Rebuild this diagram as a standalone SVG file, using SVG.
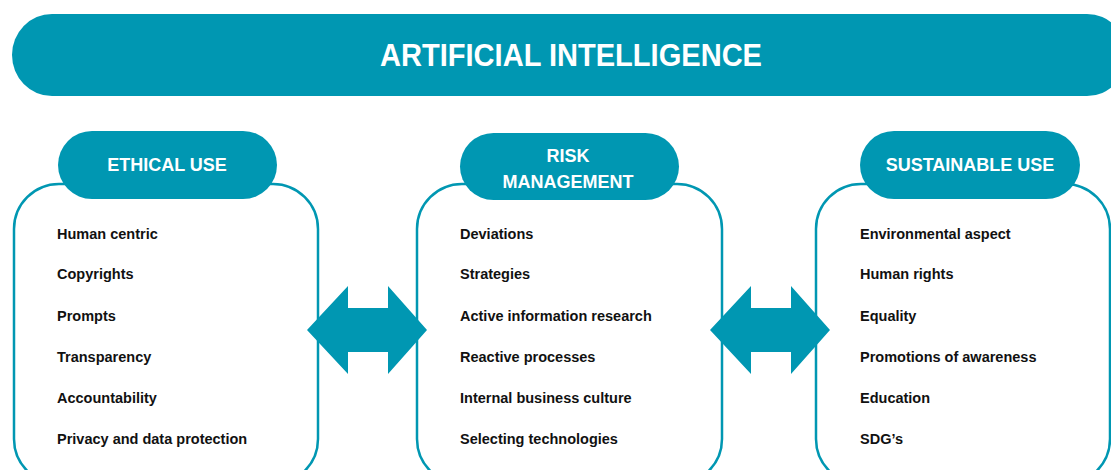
<svg xmlns="http://www.w3.org/2000/svg" width="1111" height="470" viewBox="0 0 1111 470">
<style>
.teal{fill:#0097b2}
.box{fill:#fff;stroke:#0097b2;stroke-width:2.5}
.hd{font-family:"Liberation Sans",Arial,sans-serif;font-weight:bold;fill:#fff;text-anchor:middle;font-size:18px}
.it{font-family:"Liberation Sans",Arial,sans-serif;font-weight:bold;fill:#111;font-size:14.5px}
</style>
<rect width="1111" height="470" fill="#fff"/>
<g id="title">
<rect class="teal" x="12" y="14" width="1115" height="82" rx="40" ry="41"/>
<text x="571" y="66" font-family="'Liberation Sans',Arial,sans-serif" font-weight="bold" font-size="32" fill="#fff" text-anchor="middle" textLength="382" lengthAdjust="spacingAndGlyphs">ARTIFICIAL INTELLIGENCE</text>
</g>
<g id="ethical">
<rect class="box" x="14" y="184" width="304" height="300" rx="45"/>
<rect class="teal" x="58" y="131" width="219" height="68" rx="34"/>
<text class="hd" x="167" y="171">ETHICAL USE</text>
<text class="it" x="57" y="239">Human centric</text>
<text class="it" x="57" y="279">Copyrights</text>
<text class="it" x="57" y="321">Prompts</text>
<text class="it" x="57" y="362">Transparency</text>
<text class="it" x="57" y="403">Accountability</text>
<text class="it" x="57" y="444">Privacy and data protection</text>
</g>
<g id="risk">
<rect class="box" x="417" y="184" width="305" height="300" rx="45"/>
<rect class="teal" x="460" y="133" width="219" height="67" rx="33.5"/>
<text class="hd" x="568" y="162">RISK</text>
<text class="hd" x="568" y="188">MANAGEMENT</text>
<text class="it" x="460" y="239">Deviations</text>
<text class="it" x="460" y="279">Strategies</text>
<text class="it" x="460" y="321">Active information research</text>
<text class="it" x="460" y="362">Reactive processes</text>
<text class="it" x="460" y="403">Internal business culture</text>
<text class="it" x="460" y="444">Selecting technologies</text>
</g>
<g id="sustainable">
<rect class="box" x="816" y="184" width="294" height="300" rx="45"/>
<rect class="teal" x="860" y="131" width="220" height="68" rx="34"/>
<text class="hd" x="970" y="171" font-size="17.5">SUSTAINABLE USE</text>
<text class="it" x="860" y="239">Environmental aspect</text>
<text class="it" x="860" y="279">Human rights</text>
<text class="it" x="860" y="321">Equality</text>
<text class="it" x="860" y="362">Promotions of awareness</text>
<text class="it" x="860" y="403">Education</text>
<text class="it" x="860" y="444">SDG’s</text>
</g>
<g id="connectors">
<polygon class="teal" points="307,330 348,286 348,308 388,308 388,286 427,330 388,374 388,352 348,352 348,374"/>
<polygon class="teal" points="710,330 751,286 751,308 791,308 791,286 830,330 791,374 791,352 751,352 751,374"/>
</g>
</svg>
